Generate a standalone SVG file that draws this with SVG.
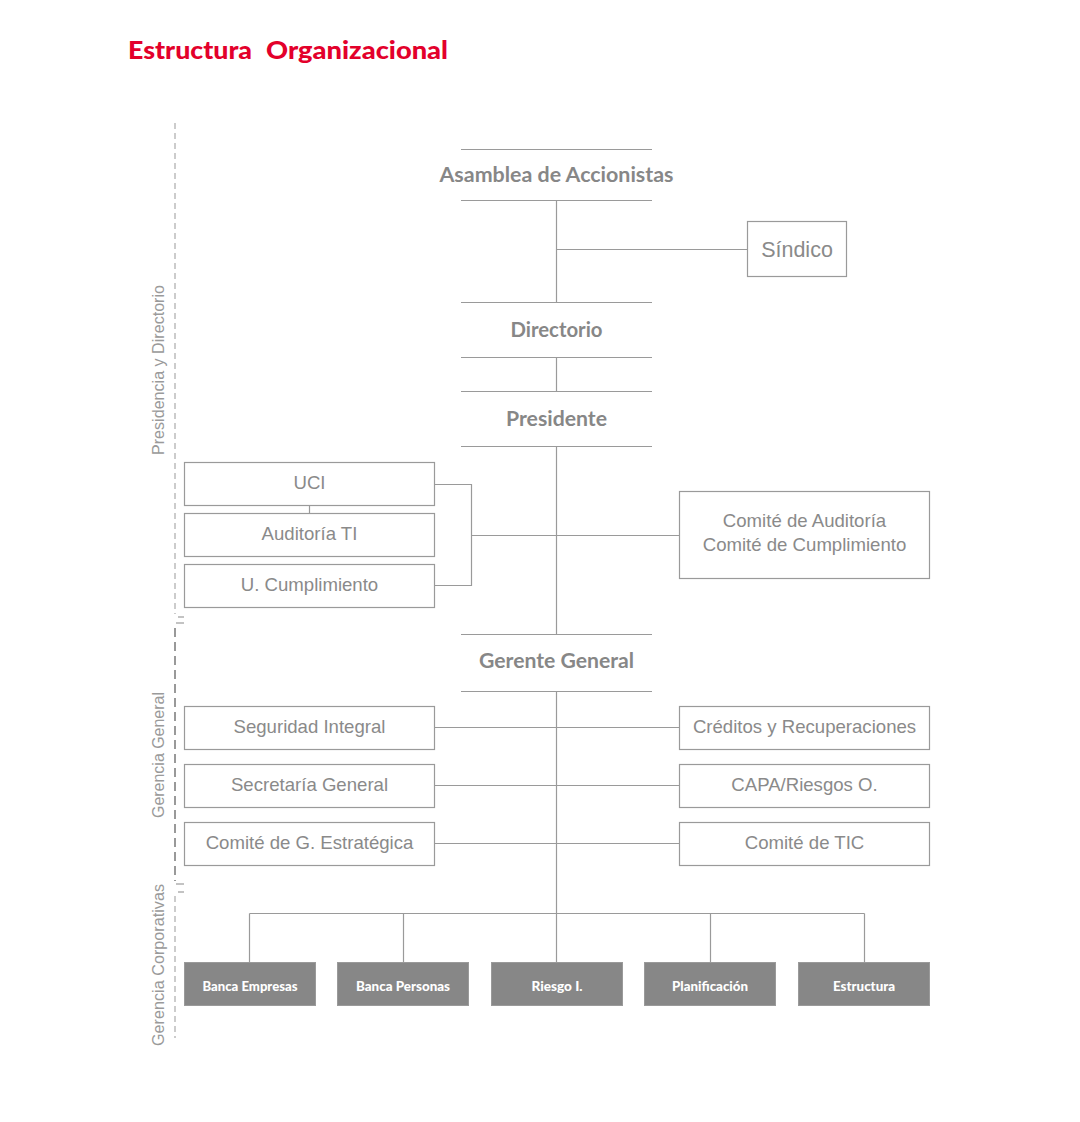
<svg xmlns="http://www.w3.org/2000/svg" width="1080" height="1122" viewBox="0 0 1080 1122">
<style>
.bg{fill:#ffffff}
.ln{stroke:#9a9a9a;stroke-width:1.2;fill:none}
.box{fill:#ffffff;stroke:#9a9a9a;stroke-width:1.2}
.dbox{fill:#878787;stroke:#9a9a9a;stroke-width:1}
.hd{font-family:Lato,"Open Sans",sans-serif;font-weight:700;font-size:20px;fill:#878787;text-anchor:middle}
.tx{font-family:"Liberation Sans",Arial,sans-serif;font-size:18.6px;fill:#8a8a8a;text-anchor:middle}
.dt{font-family:Lato,"Open Sans",sans-serif;font-weight:900;font-size:12.5px;fill:#ffffff;text-anchor:middle}
.side{font-family:"Liberation Sans",Arial,sans-serif;font-size:16.2px;fill:#9a9a9a;text-anchor:middle}
.title{font-family:Lato,"Open Sans",sans-serif;font-weight:900;font-size:25px;fill:#e3002b}
.dash1{stroke:#999999;stroke-width:1;stroke-dasharray:6,4;fill:none}
.dash2{stroke:#999999;stroke-width:2;stroke-dasharray:9,5;fill:none}
.tick{stroke:#9a9a9a;stroke-width:1.2}
</style>
<rect class="bg" x="0" y="0" width="1080" height="1122"/>
<g id="title">
  <text class="title" x="128" y="59" textLength="124" lengthAdjust="spacingAndGlyphs">Estructura</text>
  <text class="title" x="266" y="59" textLength="182" lengthAdjust="spacingAndGlyphs">Organizacional</text>
</g>

<g id="sections">
  <line class="dash1" x1="175" y1="123" x2="175" y2="614"/>
  <line class="tick" x1="178" y1="617" x2="184" y2="617"/>
  <line class="tick" x1="176" y1="623" x2="184" y2="623"/>
  <line class="dash2" x1="175" y1="628" x2="175" y2="881"/>
  <line class="tick" x1="176" y1="884" x2="184" y2="884"/>
  <line class="tick" x1="178" y1="892" x2="184" y2="892"/>
  <line class="dash1" x1="175" y1="896" x2="175" y2="1038"/>
  <text class="side" transform="translate(164,370) rotate(-90)" textLength="170" lengthAdjust="spacingAndGlyphs">Presidencia y Directorio</text>
  <text class="side" transform="translate(164,755) rotate(-90)" textLength="126" lengthAdjust="spacingAndGlyphs">Gerencia General</text>
  <text class="side" transform="translate(164,965) rotate(-90)" textLength="162" lengthAdjust="spacingAndGlyphs">Gerencia Corporativas</text>
</g>

<g id="connectors">
  <line class="ln" x1="556.5" y1="200" x2="556.5" y2="302"/>
  <line class="ln" x1="556.5" y1="249.5" x2="747" y2="249.5"/>
  <line class="ln" x1="556.5" y1="357" x2="556.5" y2="391"/>
  <line class="ln" x1="556.5" y1="446" x2="556.5" y2="634"/>
  <line class="ln" x1="309.5" y1="505" x2="309.5" y2="513"/>
  <polyline class="ln" points="434,484.5 471.5,484.5 471.5,585.5 434,585.5"/>
  <line class="ln" x1="471.5" y1="535.5" x2="679" y2="535.5"/>
  <line class="ln" x1="556.5" y1="691" x2="556.5" y2="913.5"/>
  <line class="ln" x1="434" y1="727.5" x2="679" y2="727.5"/>
  <line class="ln" x1="434" y1="785.5" x2="679" y2="785.5"/>
  <line class="ln" x1="434" y1="843.5" x2="679" y2="843.5"/>
  <line class="ln" x1="249.5" y1="913.5" x2="864.5" y2="913.5"/>
  <line class="ln" x1="249.5" y1="913.5" x2="249.5" y2="962"/>
  <line class="ln" x1="403.5" y1="913.5" x2="403.5" y2="962"/>
  <line class="ln" x1="556.5" y1="913.5" x2="556.5" y2="962"/>
  <line class="ln" x1="710.5" y1="913.5" x2="710.5" y2="962"/>
  <line class="ln" x1="864.5" y1="913.5" x2="864.5" y2="962"/>
</g>

<g id="asamblea">
  <line class="ln" x1="461" y1="149.5" x2="652" y2="149.5"/>
  <line class="ln" x1="461" y1="200.5" x2="652" y2="200.5"/>
  <text class="hd" x="556.5" y="182" textLength="234" lengthAdjust="spacingAndGlyphs">Asamblea de Accionistas</text>
</g>
<g id="sindico">
  <rect class="box" x="747.5" y="221.5" width="99" height="55"/>
  <text class="tx" x="797" y="257" style="font-size:21.5px">Síndico</text>
</g>
<g id="directorio">
  <line class="ln" x1="461" y1="302.5" x2="652" y2="302.5"/>
  <line class="ln" x1="461" y1="357.5" x2="652" y2="357.5"/>
  <text class="hd" x="556.5" y="337" textLength="92" lengthAdjust="spacingAndGlyphs">Directorio</text>
</g>
<g id="presidente">
  <line class="ln" x1="461" y1="391.5" x2="652" y2="391.5"/>
  <line class="ln" x1="461" y1="446.5" x2="652" y2="446.5"/>
  <text class="hd" x="556.5" y="426" textLength="101" lengthAdjust="spacingAndGlyphs">Presidente</text>
</g>
<g id="uci">
  <rect class="box" x="184.5" y="462.5" width="250" height="43"/>
  <text class="tx" x="309.5" y="489">UCI</text>
</g>
<g id="auditoria-ti">
  <rect class="box" x="184.5" y="513.5" width="250" height="43"/>
  <text class="tx" x="309.5" y="540">Auditoría TI</text>
</g>
<g id="u-cumplimiento">
  <rect class="box" x="184.5" y="564.5" width="250" height="43"/>
  <text class="tx" x="309.5" y="591">U. Cumplimiento</text>
</g>
<g id="comite-auditoria">
  <rect class="box" x="679.5" y="491.5" width="250" height="87"/>
  <text class="tx" x="804.5" y="527">Comité de Auditoría</text>
  <text class="tx" x="804.5" y="551">Comité de Cumplimiento</text>
</g>
<g id="gerente-general">
  <line class="ln" x1="461" y1="634.5" x2="652" y2="634.5"/>
  <line class="ln" x1="461" y1="691.5" x2="652" y2="691.5"/>
  <text class="hd" x="556.5" y="668" textLength="155" lengthAdjust="spacingAndGlyphs">Gerente General</text>
</g>
<g id="seguridad-integral">
  <rect class="box" x="184.5" y="706.5" width="250" height="43"/>
  <text class="tx" x="309.5" y="733">Seguridad Integral</text>
</g>
<g id="secretaria-general">
  <rect class="box" x="184.5" y="764.5" width="250" height="43"/>
  <text class="tx" x="309.5" y="791">Secretaría General</text>
</g>
<g id="comite-g-estrategica">
  <rect class="box" x="184.5" y="822.5" width="250" height="43"/>
  <text class="tx" x="309.5" y="849">Comité de G. Estratégica</text>
</g>
<g id="creditos">
  <rect class="box" x="679.5" y="706.5" width="250" height="43"/>
  <text class="tx" x="804.5" y="733">Créditos y Recuperaciones</text>
</g>
<g id="capa">
  <rect class="box" x="679.5" y="764.5" width="250" height="43"/>
  <text class="tx" x="804.5" y="791">CAPA/Riesgos O.</text>
</g>
<g id="comite-tic">
  <rect class="box" x="679.5" y="822.5" width="250" height="43"/>
  <text class="tx" x="804.5" y="849">Comité de TIC</text>
</g>
<g id="banca-empresas">
  <rect class="dbox" x="184.5" y="962.5" width="131" height="43"/>
  <text class="dt" x="250" y="991" textLength="95" lengthAdjust="spacingAndGlyphs">Banca Empresas</text>
</g>
<g id="banca-personas">
  <rect class="dbox" x="337.5" y="962.5" width="131" height="43"/>
  <text class="dt" x="403" y="991" textLength="94" lengthAdjust="spacingAndGlyphs">Banca Personas</text>
</g>
<g id="riesgo">
  <rect class="dbox" x="491.5" y="962.5" width="131" height="43"/>
  <text class="dt" x="557" y="991" textLength="51" lengthAdjust="spacingAndGlyphs">Riesgo I.</text>
</g>
<g id="planificacion">
  <rect class="dbox" x="644.5" y="962.5" width="131" height="43"/>
  <text class="dt" x="710" y="991" textLength="76" lengthAdjust="spacingAndGlyphs">Planificación</text>
</g>
<g id="estructura">
  <rect class="dbox" x="798.5" y="962.5" width="131" height="43"/>
  <text class="dt" x="864" y="991" textLength="62" lengthAdjust="spacingAndGlyphs">Estructura</text>
</g>
</svg>
